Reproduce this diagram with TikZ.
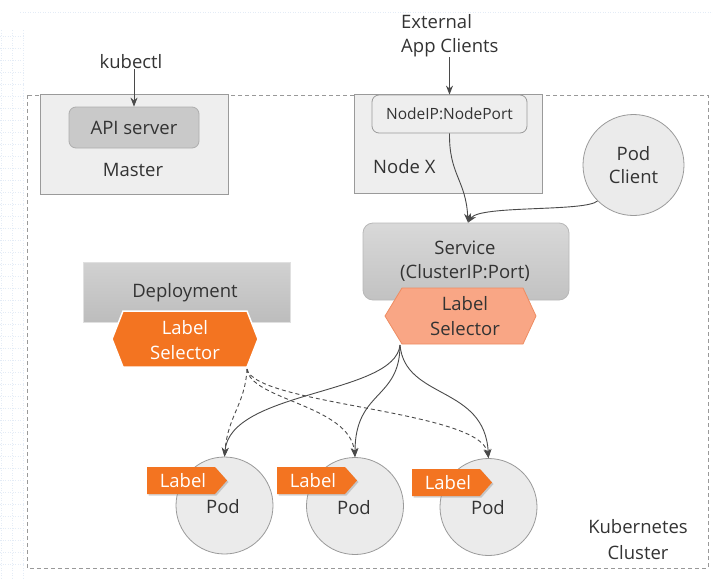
\documentclass[tikz,border=0pt]{standalone}
\usepackage{fontspec}
\setmainfont{Open Sans}
\usetikzlibrary{arrows.meta,shadows}
\definecolor{txt}{HTML}{333333}
\definecolor{lnc}{HTML}{4A4A4A}
\definecolor{boxfill}{HTML}{EEEEEE}
\definecolor{boxline}{HTML}{9A9A9A}
\definecolor{apifill}{HTML}{C9C9C9}
\definecolor{orangeA}{HTML}{F37421}
\definecolor{orangeB}{HTML}{F58A3A}
\definecolor{salmon}{HTML}{F9A685}
\definecolor{salmonline}{HTML}{EE8C62}
\definecolor{podfill}{HTML}{EBEBEB}
\definecolor{gridc}{HTML}{E4ECF6}
\tikzset{
  arr/.style={draw=lnc, line width=0.9pt, -{Stealth[length=9pt,width=7pt]}},
  darr/.style={arr, dash pattern=on 4pt off 3pt},
  lightbox/.style={draw=boxline, fill=boxfill, line width=0.8pt},
  podc/.style={circle, draw=boxline, fill=podfill, line width=0.8pt, minimum size=97pt, inner sep=0pt},
  podlabel/.pic={
    \fill[orangeA, drop shadow={opacity=0.35, shadow xshift=1.5pt, shadow yshift=-1.5pt}] (0,0) -- (68,0) -- (80,13.5) -- (68,27) -- (0,27) -- cycle;
    \node[text=white] at (36,14) {Label};
  }
}
\begin{document}
\begin{tikzpicture}[x=1pt, y=-1pt, font=\fontsize{18.5}{24}\selectfont,
  every node/.style={text=txt, inner sep=0pt}]
\useasboundingbox (0,0) rectangle (713,579);
% faint background grid at the left edge and faint top dotted line
\foreach \gx in {1,12,23} \draw[gridc, line width=0.5pt, dotted] (\gx,30) -- (\gx,579);
\foreach \gy in {36,48,...,570} \draw[gridc, line width=0.5pt, dotted] (0,\gy) -- (24,\gy);
\draw[gridc, line width=0.5pt, dotted] (20,12) -- (713,12);

% cluster frame
\draw[draw=gray!80, line width=0.8pt, dash pattern=on 4pt off 3pt] (27,95) rectangle (708,568);

% Master
\node[lightbox, minimum width=188pt, minimum height=100pt] (master) at (134,144) {};
\node (mastert) at (133,170) {Master};
\node[draw=boxline!80, fill=apifill, rounded corners=7pt, line width=0.8pt, minimum width=130pt, minimum height=41pt] (api) at (134,127.5) {API server};
\node (kubectl) at (131,62) {kubectl};

% Node X
\node[lightbox, minimum width=188pt, minimum height=99pt] (nodex) at (448,143.5) {};
\node[anchor=west] (nodext) at (373,167) {Node X};
\node[draw=boxline, fill=boxfill, rounded corners=7pt, line width=0.8pt, minimum width=155pt, minimum height=38pt, font=\fontsize{15.5}{18}\selectfont] (nodeip) at (449.5,114) {NodeIP:NodePort};
\node[anchor=west, align=left] (ext) at (401,36) {External\\App Clients};

% Pod Client
\node[circle, draw=boxline, fill=podfill, line width=0.8pt, minimum size=101pt, align=center, font=\fontsize{18.5}{23}\selectfont] (podclient) at (633.5,165) {Pod\\Client};

% Service
\node[draw=boxline!70, top color=black!15, bottom color=black!24, rounded corners=10pt, line width=0.8pt, minimum width=206pt, minimum height=77pt] (svc) at (466,261.5) {};
\node[align=center] (svct) at (465,261) {Service\\(ClusterIP:Port)};
\fill[salmon, draw=salmonline, line width=0.8pt] (385,316) -- (402,288) -- (523,288) -- (536,316) -- (523,344) -- (402,344) -- cycle;
\node[align=center, text=black!80, font=\fontsize{18.5}{25}\selectfont] (svcsel) at (465,316) {Label\\Selector};
\coordinate (svcsrc) at (400,345);

% Deployment
\node[draw=black!12, top color=black!18, bottom color=black!26, line width=0.8pt, minimum width=207pt, minimum height=60pt] (dep) at (186.5,292) {};
\node (dept) at (185,293) {Deployment};
\fill[orangeA, draw=white, line width=1.5pt] (112,339) -- (123,311) -- (247,311) -- (258,339) -- (247,367) -- (123,367) -- cycle;
\node[align=center, text=white, font=\fontsize{18.5}{25}\selectfont] (depsel) at (185,340) {Label\\Selector};
\coordinate (depsrc) at (247,369);

% Pods
\node[podc] (pod1) at (224.5,505.5) {};
\node[podc] (pod2) at (355,506) {};
\node[podc] (pod3) at (488.5,507) {};
\pic at (147,467) {podlabel};
\pic at (277,467) {podlabel};
\pic at (412,469) {podlabel};
\node (pod1t) at (223,507) {Pod};
\node (pod2t) at (354,508) {Pod};
\node (pod3t) at (488,508) {Pod};

% Kubernetes Cluster
\node[align=center, font=\fontsize{18.5}{26}\selectfont] (k8s) at (638,540) {Kubernetes\\Cluster};

% connectors
\draw[arr] (kubectl.south -| api.north) -- (api.north);
\draw[arr] (ext.south -| nodeip.north) -- (nodeip.north);
\draw[arr] (nodeip.south) .. controls (449,175) and (466,180) .. ([xshift=2pt]svc.north);
\draw[arr] (podclient.225) .. controls (585,212) and (480,205) .. ([xshift=2pt]svc.north);

\draw[arr] (svcsrc) .. controls (395,395) and (230,390) .. (pod1.north);
\draw[arr] (svcsrc) .. controls (400,400) and (355,390) .. (pod2.north);
\draw[arr] (svcsrc) .. controls (405,400) and (485,385) .. (pod3.north);

\draw[darr] (depsrc) .. controls (245,405) and (228,415) .. (pod1.north);
\draw[darr] (depsrc) .. controls (250,400) and (350,405) .. (pod2.north);
\draw[darr] (depsrc) .. controls (255,405) and (480,410) .. (pod3.north);
\end{tikzpicture}
\end{document}
